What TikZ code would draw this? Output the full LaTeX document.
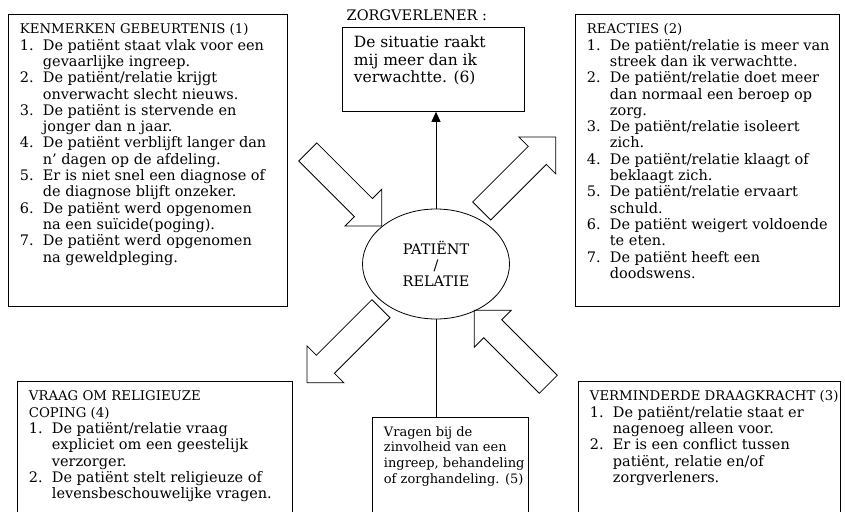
\documentclass[tikz,border=0pt]{standalone}
\usepackage{fontspec}
\setmainfont{DejaVu Serif}
\usepackage{tikz}
\usetikzlibrary{arrows.meta,shapes.geometric,positioning}

\newcommand{\kop}[1]{{\fontsize{13.3}{16.3}\selectfont #1}}
\newcommand{\punt}[2]{\par\hangindent=23pt\hangafter=1\noindent\makebox[23pt][l]{#1.}#2}
\newcommand{\vak}[4][]{\parbox[t][\dimexpr#3-16pt\relax][t]{#2}{#1\raggedright\leftskip=11.5pt\strut #4}}
\newcommand{\blokpijl}[2]{%
  \draw[pijlrand,shift={#1},rotate=#2] (0,-12.75) -- (78.6,-12.75) -- (78.6,-26)
    -- (104.6,0) -- (78.6,26) -- (78.6,12.75) -- (0,12.75) -- cycle;}

\tikzset{
  every node/.style={font=\fontsize{14.5}{16.3}\selectfont},
  kader/.style={draw,anchor=north west,inner xsep=0pt,inner ysep=8pt},
  pijlrand/.style={line join=miter},
}

\begin{document}
\begin{tikzpicture}[x=1pt,y=-1pt,line width=0.8pt]
\useasboundingbox (0,0) rectangle (845,511);
\clip (0,0) rectangle (845,511);

% kaders
\node[kader] (gebeurtenis) at (8,14) {\vak{279pt}{292pt}{\kop{KENMERKEN GEBEURTENIS (1)}
  \punt{1}{De patiënt staat vlak voor een\newline gevaarlijke ingreep.}
  \punt{2}{De patiënt/relatie krijgt\newline onverwacht slecht nieuws.}
  \punt{3}{De patiënt is stervende en\newline jonger dan n jaar.}
  \punt{4}{De patiënt verblijft langer dan\newline n' dagen op de afdeling.}
  \punt{5}{Er is niet snel een diagnose of\newline de diagnose blijft onzeker.}
  \punt{6}{De patiënt werd opgenomen\newline na een suïcide(poging).}
  \punt{7}{De patiënt werd opgenomen\newline na geweldpleging.}}};
\node[kader] (reacties) at (575,14) {\vak{264pt}{292pt}{\kop{REACTIES (2)}
  \punt{1}{De patiënt/relatie is meer van\newline streek dan ik verwachtte.}
  \punt{2}{De patiënt/relatie doet meer\newline dan normaal een beroep op\newline zorg.}
  \punt{3}{De patiënt/relatie isoleert\newline zich.}
  \punt{4}{De patiënt/relatie klaagt of\newline beklaagt zich.}
  \punt{5}{De patiënt/relatie ervaart\newline schuld.}
  \punt{6}{De patiënt weigert voldoende\newline te eten.}
  \punt{7}{De patiënt heeft een\newline doodswens.}}};
\node[kader] (zorg) at (342,27) {\vak[\fontsize{15.5}{17.5}\selectfont]{182pt}{84pt}{De situatie raakt\newline mij meer dan ik\newline verwachtte. (6)}};
\node[anchor=base west] (zorglabel) at ([xshift=1pt,yshift=6pt]zorg.north west) {ZORGVERLENER :};
\node[kader] (coping) at (17,381) {\vak{275pt}{150pt}{\kop{VRAAG OM RELIGIEUZE\newline COPING (4)}
  \punt{1}{De patiënt/relatie vraag\newline expliciet om een geestelijk\newline verzorger.}
  \punt{2}{De patiënt stelt religieuze of\newline levensbeschouwelijke vragen.}}};
\node[kader] (zinvol) at (372,417) {\vak[\fontsize{13}{15.6}\selectfont]{156pt}{110pt}{Vragen bij de\newline zinvolheid van een\newline ingreep, behandeling\newline of zorghandeling. (5)}};
\node[kader] (draagkracht) at (578,381) {\vak{262pt}{150pt}{\kop{VERMINDERDE DRAAGKRACHT (3)}
  \punt{1}{De patiënt/relatie staat er\newline nagenoeg alleen voor.}
  \punt{2}{Er is een conflict tussen\newline patiënt, relatie en/of\newline zorgverleners.}}};

% midden
\node[draw,ellipse,minimum width=147pt,minimum height=110pt,inner sep=0pt,align=center] (patient) at (436,264) {PATIËNT\\/\\RELATIE};
\draw[-{Triangle[length=10pt,width=9pt]}] (patient.north) -- (patient.north |- zorg.south);
\draw (patient.south) -- (patient.south |- zinvol.north);

% blokpijlen
\blokpijl{(307.8,152)}{-45}
\blokpijl{(481.7,211)}{45}
\blokpijl{(381,308.7)}{-135}
\blokpijl{(548.3,384.3)}{135}
\end{tikzpicture}
\end{document}
